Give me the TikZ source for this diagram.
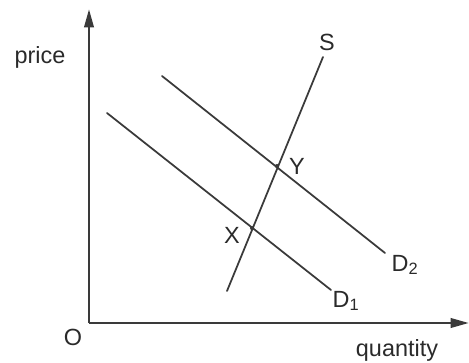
\documentclass[tikz,border=0pt]{standalone}
\usepackage{fontspec}
\setmainfont{Liberation Sans}
\usetikzlibrary{arrows.meta, positioning}
\definecolor{cline}{HTML}{3A3A3A}
\definecolor{ctext}{HTML}{2A2A2A}
\tikzset{
  every picture/.style={font=\fontsize{20}{23}\selectfont, text=ctext},
  axis/.style={draw=cline, line width=2.2pt, -{Triangle[length=5.5mm, width=2.8mm]}},
  curve/.style={draw=cline, line width=1.5pt, line cap=round},
  lbl/.style={inner sep=1pt},
  dot/.style={circle, fill=cline, inner sep=0pt, minimum size=3.5pt},
}
\begin{document}
\begin{tikzpicture}[x=0.03cm, y=-0.03cm]
  \useasboundingbox (0,0) rectangle (469,363);
  % axes
  \coordinate (origin) at (89,323);
  \coordinate (ytip) at (89,9);
  \coordinate (xtip) at (469,323);
  \draw[axis] (origin) -- (ytip);
  \draw[axis] (origin) -- (xtip);
  \node[lbl] (price) at (40,57) {price};
  \node[lbl] (o) at (73,337) {O};
  \node[lbl] (quantity) at (397,350) {quantity};
  % supply
  \coordinate (s0) at (227,291);
  \coordinate (s1) at (323,57);
  \draw[curve] (s0) -- (s1);
  \node[lbl] (slab) at (327,42) {S};
  % demand
  \coordinate (d1a) at (107,113);
  \coordinate (d1b) at (331,290);
  \coordinate (d2a) at (162,76);
  \coordinate (d2b) at (385,253);
  \draw[curve] (d1a) -- (d1b);
  \draw[curve] (d2a) -- (d2b);
  \node[lbl] (d1lab) at (346,301) {D\textsubscript{1}};
  \node[lbl] (d2lab) at (405,265) {D\textsubscript{2}};
  % equilibria
  \node[dot] (x) at (252,228) {};
  \node[dot] (y) at (277,166) {};
  \node[lbl] (xlab) at (232,235) {X};
  \node[lbl] (ylab) at (297,166) {Y};
\end{tikzpicture}
\end{document}
